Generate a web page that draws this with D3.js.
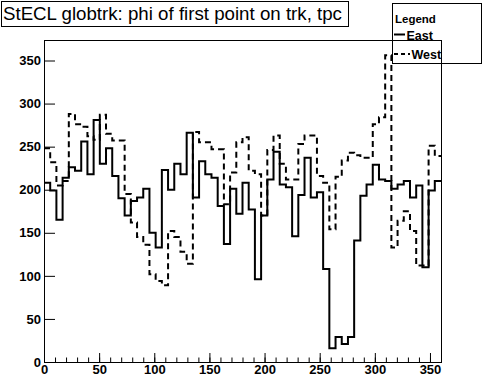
<!doctype html>
<html>
<head>
<meta charset="utf-8">
<script src="https://cdn.jsdelivr.net/npm/d3@7"></script>
<style>
  body { margin: 0; background: #fff; }
  svg { display: block; font-family: "Liberation Sans", Arial, Helvetica, sans-serif; }
  .axis text { font-size: 13px; font-weight: bold; fill: #000; }
  .axis line { stroke: #000; }
</style>
</head>
<body>
<svg id="chart" width="484" height="377"></svg>
<script>
// phi histogram, 64 bins from 0 to 360 deg
var nBins = 64, phiLo = 0, phiHi = 360;

var eastCounts = [208,199,165,214,226,222,256,218,281,230,
                  248,216,190,170,187,191,201,150,133,223,
                  200,230,218,266,191,233,218,214,181,137,
                  201,172,208,177,96,170,212,244,206,203,
                  146,194,237,191,197,108,16,29,21,29,
                  141,193,206,229,212,210,201,206,210,191,
                  205,110,199,210];

var westCounts = [248,232,205,210,288,276,273,262,258,287,
                  265,257,257,195,162,145,136,102,94,89,
                  152,145,128,114,267,255,255,247,247,183,
                  220,255,261,222,218,170,246,263,230,212,
                  212,253,263,263,216,208,154,215,234,243,
                  240,237,237,276,284,356,133,164,175,152,
                  112,112,251,239];

var majorTicks = [0, 50, 100, 150, 200, 250, 300, 350];
var titleText = "StECL globtrk: phi of first point on trk, tpc";
var legendTitle = "Legend";
var seriesNames = ["East", "West"];

var svg = d3.select("#chart");
var frameL = 44, frameR = 441, frameT = 40, frameB = 362;

var binW = (phiHi - phiLo) / nBins;
var ymax = d3.max(eastCounts.concat(westCounts)) * 1.05;

var x = d3.scaleLinear().domain([phiLo, phiHi]).range([frameL, frameR]);
var y = d3.scaleLinear().domain([0, ymax]).range([frameB, frameT]);

function stepPoints(counts) {
    var pts = counts.map(function(v, i) { return [phiLo + i * binW, v]; });
    pts.push([phiHi, counts[counts.length - 1]]);
    return pts;
}

var line = d3.line()
    .x(function(d) { return x(d[0]); })
    .y(function(d) { return y(d[1]); })
    .curve(d3.curveStepAfter);

// frame
svg.append("rect")
    .attr("x", frameL + 0.5).attr("y", frameT + 0.5)
    .attr("width", frameR - frameL).attr("height", frameB - frameT)
    .attr("fill", "none").attr("stroke", "#000").attr("stroke-width", 1);

// histograms
svg.append("path")
    .attr("d", line(stepPoints(eastCounts)))
    .attr("fill", "none").attr("stroke", "#000").attr("stroke-width", 2);

svg.append("path")
    .attr("d", line(stepPoints(westCounts)))
    .attr("fill", "none").attr("stroke", "#000").attr("stroke-width", 2)
    .attr("stroke-dasharray", "6,4");

// y axis
var gy = svg.append("g").attr("class", "axis").attr("transform", "translate(" + frameL + ",0)");
gy.call(d3.axisLeft(y).tickValues(d3.range(0, ymax, 10)).tickSize(-5.5).tickFormat(""));
gy.call(d3.axisLeft(y).tickValues(majorTicks).tickSize(-11).tickPadding(3).tickFormat(d3.format("d")));
gy.selectAll(".domain").remove();

// x axis
var gx = svg.append("g").attr("class", "axis").attr("transform", "translate(0," + frameB + ")");
var gxMinor = gx.append("g");
gxMinor.call(d3.axisBottom(x).tickValues(d3.range(phiLo, phiHi + 1, 10)).tickSize(-4.5).tickFormat(""));
var gxMajor = gx.append("g");
gxMajor.call(d3.axisBottom(x).tickValues(majorTicks).tickSize(-9).tickPadding(3).tickFormat(d3.format("d")));
gx.selectAll(".domain").remove();

// title box
svg.append("rect")
    .attr("x", 1.5).attr("y", 1.5).attr("width", 347).attr("height", 25)
    .attr("fill", "#fff").attr("stroke", "#000");
svg.append("text")
    .attr("x", 3).attr("y", 19.5)
    .attr("font-size", "18.7px")
    .text(titleText);

// legend
var lg = svg.append("g");
lg.append("rect")
    .attr("x", 392.5).attr("y", 3.5).attr("width", 89).attr("height", 60)
    .attr("fill", "none").attr("stroke", "#000");
lg.append("text")
    .attr("x", 395).attr("y", 22.5)
    .attr("font-size", "11.5px").attr("font-weight", "bold")
    .text(legendTitle);
lg.append("line")
    .attr("x1", 394).attr("x2", 405).attr("y1", 34.5).attr("y2", 34.5)
    .attr("stroke", "#000").attr("stroke-width", 2);
lg.append("text")
    .attr("x", 406.5).attr("y", 39.5)
    .attr("font-size", "12.5px").attr("font-weight", "bold")
    .text(seriesNames[0]);
lg.append("line")
    .attr("x1", 394).attr("x2", 410).attr("y1", 54).attr("y2", 54)
    .attr("stroke", "#000").attr("stroke-width", 2)
    .attr("stroke-dasharray", "4,3");
lg.append("text")
    .attr("x", 411.5).attr("y", 58.5)
    .attr("font-size", "12.5px").attr("font-weight", "bold")
    .text(seriesNames[1]);
</script>
</body>
</html>
